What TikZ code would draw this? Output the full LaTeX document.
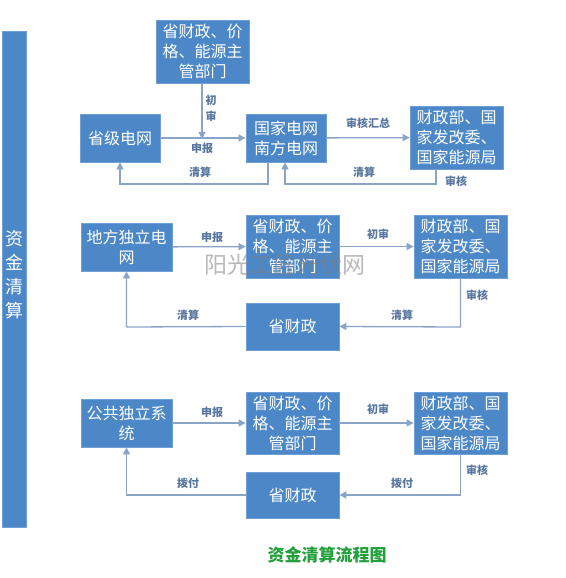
\documentclass[tikz,border=0pt]{standalone}
\usepackage{fontspec}
\newfontfamily\cjk{Noto Sans CJK SC}
\usetikzlibrary{arrows.meta}
\definecolor{boxblue}{RGB}{76,136,200}
\definecolor{boxedge}{RGB}{110,160,215}
\definecolor{linec}{RGB}{138,164,200}
\definecolor{labc}{RGB}{88,118,160}
\definecolor{titleg}{RGB}{34,160,58}
\tikzset{
  box/.style={draw=boxedge,line width=0.8pt,fill=boxblue,text=white,font=\cjk\fontsize{16}{20}\selectfont,align=center,inner sep=0pt},
  arr/.style={draw=linec,line width=1.3pt,-{Triangle[width=7pt,length=7pt]}},
  lab/.style={text=labc,font=\cjk\bfseries\fontsize{11}{13}\selectfont,inner sep=0pt}
}
\begin{document}
\begin{tikzpicture}[x=1pt,y=-1pt]
\useasboundingbox[fill=white] (0,0) rectangle (565,578);
% left bar
\node[box,minimum width=24pt,minimum height=496pt] (bar) at (14.5,279) {};
\node[text=white,font=\cjk\fontsize{18}{24}\selectfont,align=center,inner sep=0pt] (bartext) at (14.5,275) {资\\金\\清\\算};
% row 1
\node[box,minimum width=93pt,minimum height=63pt] (top) at (202.5,51.5) {省财政、价\\格、能源主\\管部门};
\node[box,minimum width=80pt,minimum height=48pt] (sheng) at (120,138) {省级电网};
\node[box,minimum width=80pt,minimum height=48pt] (guo) at (286,138) {国家电网\\南方电网};
\node[box,minimum width=93pt,minimum height=63pt] (czA) at (456.5,137.5) {财政部、国\\家发改委、\\国家能源局};
\coordinate (j1) at (202,137);
\draw[arr] (sheng) -- (guo);
\draw[arr] (top.south -| j1) -- ([yshift=-2pt]j1);
\draw[arr] (guo) -- (czA);
\coordinate (r1a) at (268,184);
\coordinate (r1b) at (120,184);
\draw[arr] (guo.south -| r1a) -- (r1a) -- (r1b) -- (sheng.south);
\coordinate (r1c) at (436,184);
\coordinate (r1d) at (285,184);
\draw[arr] (czA.south -| r1c) -- (r1c) -- (r1d) -- (guo.south -| r1d);
\node[lab,align=center,font=\cjk\bfseries\fontsize{11}{16}\selectfont] (l1) at (211,108) {初\\审};
\node[lab] (l2) at (202,148) {申报};
\node[lab] (l3) at (200,172) {清算};
\node[lab] (l4) at (368,123) {审核汇总};
\node[lab] (l5) at (364,172) {清算};
\node[lab] (l6) at (456,181) {审核};
% row 2
\node[box,minimum width=91pt,minimum height=48pt] (dfd) at (126.5,247) {地方独立电\\网};
\node[box,minimum width=93pt,minimum height=63pt] (midB) at (292.5,246.5) {省财政、价\\格、能源主\\管部门};
\node[box,minimum width=93pt,minimum height=63pt] (czB) at (460.5,246.5) {财政部、国\\家发改委、\\国家能源局};
\node[box,minimum width=93pt,minimum height=47pt] (sczB) at (292.5,326.5) {省财政};
\draw[arr] (dfd) -- (midB);
\draw[arr] (midB) -- (czB);
\coordinate (r2a) at (460.5,327);
\coordinate (r2b) at (126.5,327);
\draw[arr] (czB.south) -- (r2a) -- (sczB.east);
\draw[arr] (sczB.west) -- (r2b) -- (dfd.south);
\node[lab] (m1) at (212,237) {申报};
\node[lab] (m2) at (378,234) {初审};
\node[lab] (m3) at (477,295) {审核};
\node[lab] (m4) at (402,315) {清算};
\node[lab] (m5) at (188,315) {清算};
% row 3
\node[box,minimum width=91pt,minimum height=48pt] (gg) at (126.5,423) {公共独立系\\统};
\node[box,minimum width=93pt,minimum height=62pt] (midC) at (292.5,423) {省财政、价\\格、能源主\\管部门};
\node[box,minimum width=93pt,minimum height=62pt] (czC) at (460.5,423) {财政部、国\\家发改委、\\国家能源局};
\node[box,minimum width=93pt,minimum height=46pt] (sczC) at (292.5,495) {省财政};
\draw[arr] (gg) -- (midC);
\draw[arr] (midC) -- (czC);
\coordinate (r3a) at (460.5,495);
\coordinate (r3b) at (126.5,495);
\draw[arr] (czC.south) -- (r3a) -- (sczC.east);
\draw[arr] (sczC.west) -- (r3b) -- (gg.south);
\node[lab] (n1) at (212,412) {申报};
\node[lab] (n2) at (378,409) {初审};
\node[lab] (n3) at (477,470) {审核};
\node[lab] (n4) at (402,483) {拨付};
\node[lab] (n5) at (188,483) {拨付};
% title
\node[text=titleg,font=\cjk\bfseries\fontsize{17}{20}\selectfont] (title) at (327,555) {资金清算流程图};
% watermark
\node[text=gray,opacity=0.55,font=\cjk\fontsize{23}{26}\selectfont] (wm) at (285,265) {阳光工匠光伏网};
\end{tikzpicture}
\end{document}
